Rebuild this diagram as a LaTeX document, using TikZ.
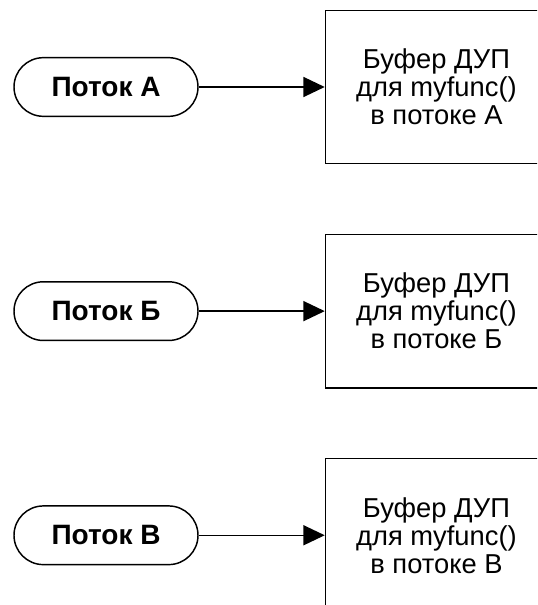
\documentclass[tikz,border=0pt]{standalone}
\usepackage{fontspec}
\setmainfont{Liberation Sans}
\usetikzlibrary{arrows.meta,positioning}

\begin{document}
\begin{tikzpicture}[
  x=0.75pt, y=-0.75pt,
  line width=1.1pt,
  font=\fontsize{20.5}{21}\selectfont,
  thread/.style={draw, rounded corners=22pt, minimum width=138pt, minimum height=44pt,
    font=\fontsize{21}{22}\selectfont\bfseries},
  buffer/.style={draw, align=center, minimum width=166.5pt, minimum height=115pt}
]
\useasboundingbox (0,0) rectangle (537,605);
\clip (0,0) rectangle (537,605);

\node[thread] (thrA) at (106,87) {Поток А};
\node[buffer, right=94.5pt of thrA] (bufA) {Буфер ДУП\\для myfunc()\\в потоке А};

\node[thread, below=123pt of thrA] (thrB) {Поток Б};
\node[buffer, right=94.5pt of thrB] (bufB) {Буфер ДУП\\для myfunc()\\в потоке Б};

\node[thread, below=123pt of thrB] (thrV) {Поток В};
\node[buffer, right=94.5pt of thrV] (bufV) {Буфер ДУП\\для myfunc()\\в потоке В};

\draw[-{Triangle[length=16pt,width=15pt]}] (thrA) -- (bufA);
\draw[-{Triangle[length=16pt,width=15pt]}] (thrB) -- (bufB);
\draw[-{Triangle[length=16pt,width=15pt]}] (thrV) -- (bufV);
\end{tikzpicture}
\end{document}
